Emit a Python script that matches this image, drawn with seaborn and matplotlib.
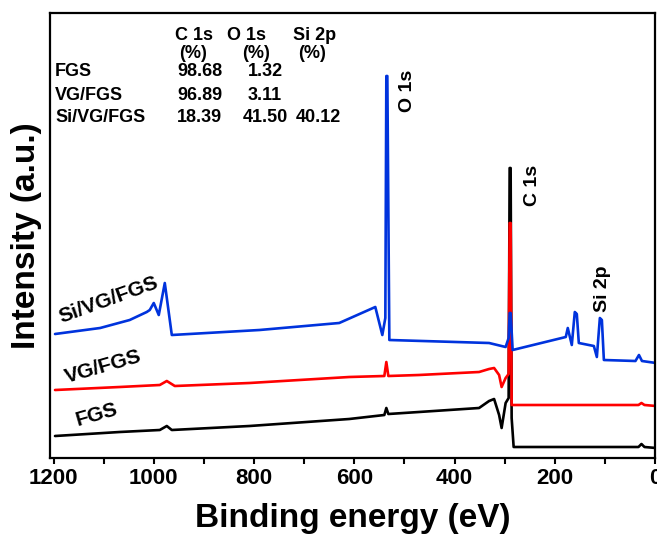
import numpy as np
import seaborn as sns
import pandas as pd
import matplotlib.pyplot as plt
from matplotlib.ticker import MultipleLocator

# XPS survey spectra (binding energy in eV, intensity a.u.)
fgs_be = [1197, 1068, 988, 974, 964, 809, 610, 540, 536, 532, 471, 351, 331, 321,
          311, 306, 298, 292, 290, 288, 286, 282, 33, 27, 21, -2]
fgs_int = [22, 26, 28, 32, 28, 32, 39, 43, 50, 44, 46, 50, 57, 59,
           43, 30, 55, 60, 290, 290, 40, 11, 11, 14, 11, 10]

vg_be = [1197, 1068, 988, 974, 958, 809, 610, 540, 536, 532, 471, 351, 331, 321,
         311, 306, 298, 292, 290, 288, 286, 282, 33, 27, 21, -2]
vg_int = [68, 71, 73, 77, 72, 75, 81, 82, 96, 82, 83, 86, 89, 90,
          83, 71, 80, 84, 235, 235, 53, 53, 53, 55, 53, 52]

si_be = [1197, 1107, 1048, 1014, 1008, 1000, 990, 978, 964, 789, 630, 558, 544,
         538, 536, 534, 530, 331, 298, 292, 290, 288, 284, 178, 174, 166, 160,
         156, 152, 122, 116, 110, 106, 102, 39, 32, 26, -2]
si_int = [124, 130, 138, 146, 148, 155, 143, 175, 123, 128, 135, 151, 123,
          140, 382, 382, 118, 115, 111, 120, 145, 145, 108, 121, 130, 113, 146,
          144, 115, 112, 101, 140, 138, 98, 97, 103, 97, 95]

samples = ["FGS", "VG/FGS", "Si/VG/FGS"]
colors = ["#000000", "#ff0000", "#0033dd"]
c_pct = ["98.68", "96.89", "18.39"]
o_pct = ["1.32", "3.11", "41.50"]
si_pct = ["", "", "40.12"]

sns.set_style("ticks")
plt.rcParams["font.family"] = ["Liberation Sans", "DejaVu Sans"]
plt.rcParams["font.weight"] = "bold"
plt.rcParams["text.color"] = "black"
plt.rcParams["axes.labelcolor"] = "black"
plt.rcParams["xtick.color"] = "black"

fig = plt.figure(figsize=(6.57, 5.34), dpi=100)
ax = fig.add_axes([50 / 657, 76 / 534, 605 / 657, 445 / 534])

ds = pd.concat([
    pd.DataFrame({"be": fgs_be, "int": fgs_int, "sample": samples[0]}),
    pd.DataFrame({"be": vg_be, "int": vg_int, "sample": samples[1]}),
    pd.DataFrame({"be": si_be, "int": si_int, "sample": samples[2]}),
])
for s, c in zip(samples, colors):
    sns.lineplot(data=ds[ds["sample"] == s], x="be", y="int", color=c,
                 lw=1.9, sort=False, estimator=None, ax=ax)

ax.set_xlim(1207, 0)
ax.set_ylim(0, 445)
ax.set_yticks([])
ax.xaxis.set_major_locator(MultipleLocator(200))
ax.xaxis.set_minor_locator(MultipleLocator(100))
ax.tick_params(axis="x", which="both", direction="out", length=4.5, width=1.5,
               labelsize=16, pad=3, colors="black")
for lab in ax.get_xticklabels():
    lab.set_fontweight("bold")
for sp in ax.spines.values():
    sp.set_linewidth(1.6)
    sp.set_color("black")

ax.set_xlabel("Binding energy (eV)", fontsize=24, fontweight="bold", labelpad=10)
ax.set_ylabel("Intensity (a.u.)", fontsize=24, fontweight="bold", labelpad=6)

# composition table
tk = dict(fontsize=13, fontweight="bold", ha="center", va="center")
ax.text(920, 423, "C 1s", **tk)
ax.text(814, 423, "O 1s", **tk)
ax.text(680, 423, "Si 2p", **tk)
ax.text(922, 404, "(%)", **tk)
ax.text(796, 404, "(%)", **tk)
ax.text(684, 404, "(%)", **tk)
rows_y = [386, 362, 340]
for s, c, o, si, yy in zip(samples, c_pct, o_pct, si_pct, rows_y):
    ax.text(1197, yy, s, fontsize=13, fontweight="bold", ha="left", va="center")
    ax.text(908, yy, c, **tk)
    ax.text(778, yy, o, **tk)
    ax.text(672, yy, si, **tk)

# curve labels
ax.text(1091, 158, "Si/VG/FGS", fontsize=15, fontweight="bold", rotation=20,
        ha="center", va="center")
ax.text(1101, 91, "VG/FGS", fontsize=15, fontweight="bold", rotation=16,
        ha="center", va="center")
ax.text(1113, 43, "FGS", fontsize=15, fontweight="bold", rotation=16,
        ha="center", va="center")

# peak labels
pk = dict(fontsize=14, fontweight="bold", rotation=90, ha="center", va="center")
ax.text(493, 367, "O 1s", **pk)
ax.text(245, 273, "C 1s", **pk)
ax.text(104, 169, "Si 2p", **pk)

plt.savefig("out.png", dpi=100)
